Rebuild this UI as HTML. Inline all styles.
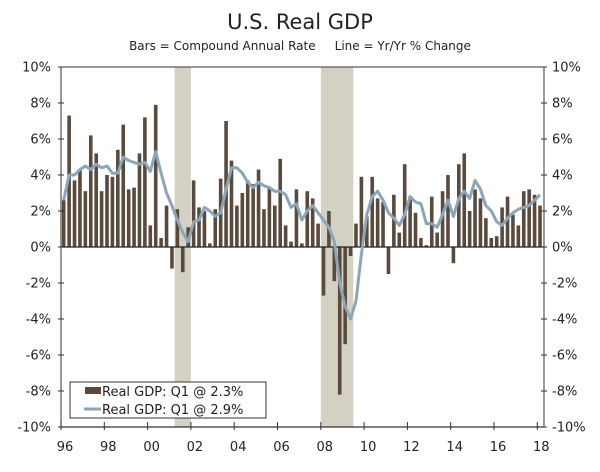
<!DOCTYPE html>
<html><head><meta charset="utf-8"><style>
body{margin:0;background:#fff;}
svg text{font-family:"DejaVu Sans","Liberation Sans",sans-serif;fill:#222;}
</style></head><body>
<svg id="chart" width="600" height="467" xmlns="http://www.w3.org/2000/svg">
<text x="300" y="29" text-anchor="middle" font-size="21">U.S. Real GDP</text>
<text x="300" y="50" text-anchor="middle" font-size="12">Bars = Compound Annual Rate&#160;&#160;&#160;&#160;&#160;Line = Yr/Yr % Change</text>
<g id="shade"></g><g id="bars"></g><g id="axes"></g><g id="line"></g>
<g>
<rect x="70" y="382" width="196" height="36" fill="#fff" stroke="#333" stroke-width="1"/>
<rect x="85" y="387" width="16" height="7" fill="#5a4a3c"/>
<text x="102" y="396" font-size="13">Real GDP: Q1 @ 2.3%</text>
<line x1="84" y1="409" x2="101" y2="409" stroke="#8aa6b8" stroke-width="3"/>
<text x="102" y="414" font-size="13">Real GDP: Q1 @ 2.9%</text>
</g>
</svg>
<script>
const bars=[2.6,7.3,3.7,4.3,3.1,6.2,5.2,3.1,4.0,3.9,5.4,6.8,3.2,3.3,5.2,7.2,1.2,7.9,0.5,2.3,-1.2,2.1,-1.4,1.1,3.7,2.2,2.0,0.2,2.1,3.8,7.0,4.8,2.3,3.0,3.7,3.5,4.3,2.1,3.3,2.3,4.9,1.2,0.3,3.2,0.2,3.1,2.7,1.3,-2.7,2.0,-1.9,-8.2,-5.4,-0.5,1.3,3.9,1.7,3.9,2.7,2.5,-1.5,2.9,0.8,4.6,2.8,1.9,0.5,0.1,2.8,0.8,3.1,4.0,-0.9,4.6,5.2,2.0,3.2,2.7,1.6,0.5,0.6,2.2,2.8,1.8,1.2,3.1,3.2,2.9,2.3];
const yoy=[2.6,4.0,4.0,4.3,4.5,4.3,4.6,4.4,4.5,4.1,4.1,5.0,4.8,4.7,4.6,4.7,4.2,5.3,4.1,3.0,2.3,1.5,0.8,0.3,1.4,1.5,2.2,2.0,1.7,1.9,3.2,4.4,4.4,4.1,3.6,3.3,3.6,3.4,3.3,3.1,3.1,2.9,2.2,2.4,1.5,2.0,2.3,1.9,1.5,1.1,0.3,-2.0,-3.3,-4.0,-3.0,-0.4,1.8,2.8,3.1,2.6,1.9,1.6,1.2,1.8,2.8,2.5,2.4,1.3,1.3,1.1,1.8,2.6,1.7,2.7,3.1,2.7,3.7,3.2,2.3,2.0,1.4,1.2,1.6,1.9,2.1,2.2,2.3,2.6,2.9];
const yTicks=[10,8,6,4,2,0,-2,-4,-6,-8,-10];
const xLabels=["96","98","00","02","04","06","08","10","12","14","16","18"];
const recessions=[[2001.25,2002.0],[2008.0,2009.5]];
const NS="http://www.w3.org/2000/svg";
const L=61,R=544,T=67,B=427,qw=43.3/8;
const y=v=>247-v*18;
const xq=i=>L+(i+0.5)*qw;
const xt=t=>L+(t-1996)*43.3/2;
function mk(tag,at,parent){const e=document.createElementNS(NS,tag);for(const k in at)e.setAttribute(k,at[k]);document.getElementById(parent).appendChild(e);return e;}
recessions.forEach(r=>{
 const e=mk('rect',{x:xt(r[0]),y:T,width:xt(r[1])-xt(r[0]),height:B-T,fill:'#d3d1c3'},'shade');
 
 
});
bars.forEach((v,i)=>{
 const e=mk('rect',{x:xq(i)-1.8,y:Math.min(y(v),y(0)),width:3.6,height:Math.abs(y(v)-y(0)),fill:'#5a4a3c'},'bars');
 
 
});
mk('line',{x1:L,y1:T,x2:R,y2:T,stroke:'#333','stroke-width':1},'axes');
mk('line',{x1:L,y1:B,x2:R,y2:B,stroke:'#333','stroke-width':1.2},'axes');
mk('line',{x1:L,y1:y(0),x2:R,y2:y(0),stroke:'#222','stroke-width':1.2},'axes');
mk('line',{x1:L,y1:T,x2:L,y2:B,stroke:'#555','stroke-width':1.2},'axes');
mk('line',{x1:R,y1:T,x2:R,y2:B,stroke:'#555','stroke-width':1.2},'axes');
yTicks.forEach(t=>{
 mk('line',{x1:L-3,y1:y(t),x2:L+3,y2:y(t),stroke:'#333'},'axes');
 mk('line',{x1:R-3,y1:y(t),x2:R+3,y2:y(t),stroke:'#333'},'axes');
 const a=mk('text',{x:L-10,y:y(t)+4.5,'text-anchor':'end','font-size':13},'axes');a.textContent=t+'%';
 
 
 const b=mk('text',{x:R+8,y:y(t)+4.5,'font-size':13},'axes');b.textContent=t+'%';
 
 
});
xLabels.forEach((s,i)=>{
 const xx=xt(1996+2*i);
 mk('line',{x1:xx,y1:B-5,x2:xx,y2:B+3,stroke:'#333'},'axes');
 const t=mk('text',{x:xx+4,y:B+24,'text-anchor':'middle','font-size':13},'axes');t.textContent=s;
 
 
});
const p=mk('polyline',{points:yoy.map((v,i)=>xq(i)+','+y(v)).join(' '),fill:'none',stroke:'#8aa6b8','stroke-width':3,'stroke-linejoin':'round'},'line');


</script>
</body></html>
